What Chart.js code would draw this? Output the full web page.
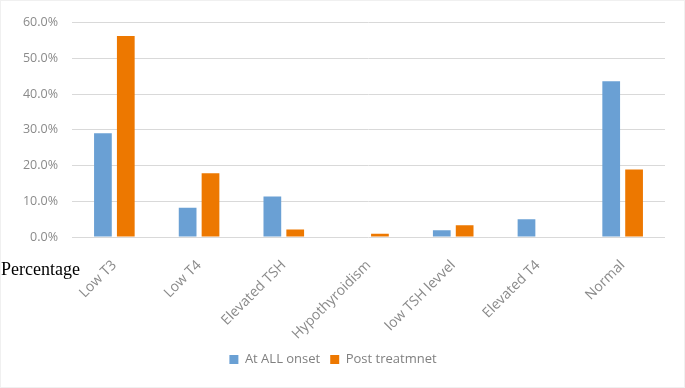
<!DOCTYPE html>
<html>
<head>
<meta charset="utf-8">
<script src="https://cdn.jsdelivr.net/npm/chart.js@4"></script>
<style>
  html, body { margin: 0; padding: 0; background: #fff; }
  #wrap { position: relative; width: 685px; height: 388px; box-sizing: border-box; border: 1px solid #f0f0f0; }
  #pct { position: absolute; left: 0px; top: 258px; font-family: "Liberation Serif", "DejaVu Serif", serif; font-size: 18px; color: #000; }
</style>
</head>
<body>
<div id="wrap">
  <canvas id="c" width="683" height="386"></canvas>
  <div id="pct">Percentage</div>
</div>
<script>
const categories = ["Low T3", "Low T4", "Elevated TSH", "Hypothyroidism", "low TSH levvel", "Elevated T4", "Normal"];
const seriesNames = ["At ALL onset", "Post treatmnet"];
const atOnset = [29.0, 8.2, 11.3, 0, 1.9, 5.0, 43.6];
const postTreatment = [56.2, 17.8, 2.1, 0.9, 3.3, 0, 18.9];
const yTicks = [0, 10, 20, 30, 40, 50, 60];

const yFont = { family: "'Open Sans', sans-serif", size: 12.5 };
const xFont = { family: "'Open Sans', sans-serif", size: 14 };
const lFont = { family: "'Open Sans', sans-serif", size: 13 };

new Chart(document.getElementById('c'), {
  type: 'bar',
  data: {
    labels: categories,
    datasets: [
      { label: seriesNames[0], data: atOnset, backgroundColor: '#6aa0d4', borderWidth: 0 },
      { label: seriesNames[1], data: postTreatment, backgroundColor: '#ed7800', borderWidth: 0 }
    ]
  },
  options: {
    responsive: false,
    animation: false,
    layout: { padding: { left: 0, right: 19, top: 18, bottom: 11 } },
    datasets: { bar: { categoryPercentage: 0.54, barPercentage: 0.775 } },
    plugins: {
      legend: {
        position: 'bottom',
        labels: { font: lFont, color: '#808080', boxWidth: 9, boxHeight: 9, padding: 10 }
      },
      tooltip: { enabled: false }
    },
    scales: {
      x: {
        grid: { display: false, drawTicks: false },
        border: { display: false },
        ticks: { font: xFont, color: '#8a8a8a', maxRotation: 45, minRotation: 45, padding: 20, autoSkip: false },
        afterFit: (s) => { s.height = 106; }
      },
      y: {
        min: 0, max: 60,
        afterBuildTicks: (s) => { s.ticks = yTicks.map(v => ({ value: v })); },
        grid: { color: '#d9d9d9', lineWidth: 1, drawTicks: false },
        border: { display: false },
        ticks: { font: yFont, color: '#8a8a8a', padding: 14, callback: v => v.toFixed(1) + '%' },
        afterFit: (s) => { s.width = 71; }
      }
    }
  }
});
</script>
</body>
</html>
